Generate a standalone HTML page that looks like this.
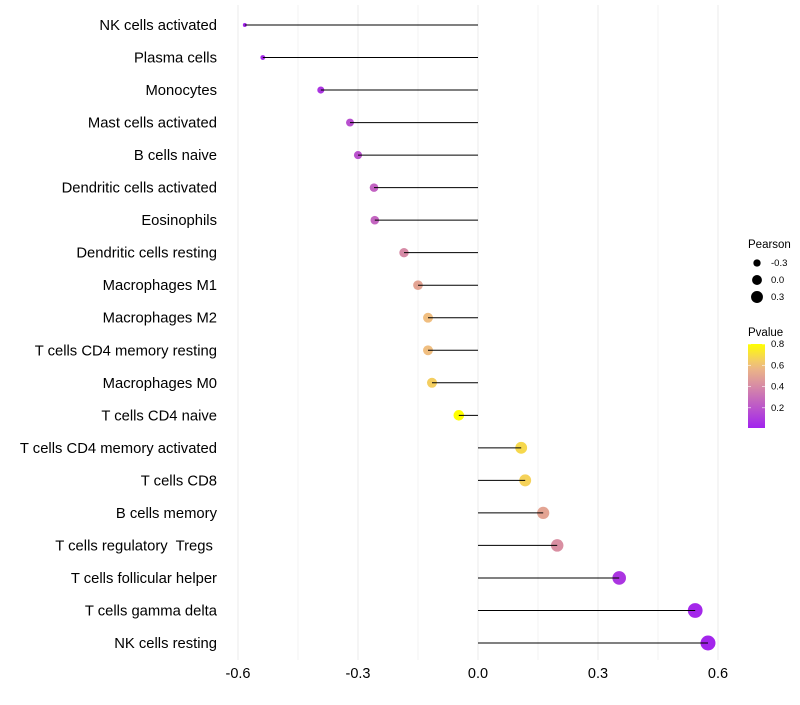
<!DOCTYPE html>
<html><head><meta charset="utf-8"><style>
body{margin:0;background:#fff;font-family:"Liberation Sans",sans-serif}
text{white-space:pre}
</style></head><body>
<svg id="chart" width="800" height="700" xmlns="http://www.w3.org/2000/svg" font-family="Liberation Sans, sans-serif"></svg>
<script>
const categories=["NK cells activated","Plasma cells","Monocytes","Mast cells activated","B cells naive","Dendritic cells activated","Eosinophils","Dendritic cells resting","Macrophages M1","Macrophages M2","T cells CD4 memory resting","Macrophages M0","T cells CD4 naive","T cells CD4 memory activated","T cells CD8","B cells memory","T cells regulatory  Tregs ","T cells follicular helper","T cells gamma delta","NK cells resting"];
const pearson=[-0.583,-0.538,-0.393,-0.32,-0.3,-0.26,-0.258,-0.185,-0.15,-0.125,-0.125,-0.115,-0.048,0.108,0.118,0.163,0.198,0.353,0.543,0.575];
const pvalue=[0.02,0.03,0.08,0.18,0.19,0.25,0.26,0.4,0.5,0.6,0.6,0.65,0.8,0.68,0.66,0.5,0.42,0.08,0.03,0.02];
const xTicks=[-0.6,-0.3,0.0,0.3,0.6];
const xTickLabels=["-0.6","-0.3","0.0","0.3","0.6"];
const sizeLegend=[-0.3,0.0,0.3];
const pTicks=[0.2,0.4,0.6,0.8];

const NS="http://www.w3.org/2000/svg";
const svg=document.getElementById('chart');
const x=v=>478+v*400;
const y=i=>25+i*(618/(categories.length-1));
const r=v=>Math.sqrt(Math.max(2,30.1+45*v));
function lerp(a,b,t){return a+(b-a)*t}
const stops=[[0,[160,32,240]],[0.4,[214,138,166]],[0.6,[240,190,128]],[0.8,[255,255,0]]];
function col(p){p=Math.max(0,Math.min(0.8,p));for(let k=1;k<stops.length;k++){if(p<=stops[k][0]){const t=(p-stops[k-1][0])/(stops[k][0]-stops[k-1][0]);const c=stops[k-1][1].map((a,j)=>Math.round(lerp(a,stops[k][1][j],t)));return `rgb(${c})`;}}return 'rgb(255,255,0)';}
function mk(tag,attrs,parent){const e=document.createElementNS(NS,tag);for(const k in attrs)e.setAttribute(k,attrs[k]);(parent||svg).appendChild(e);return e;}

for(let k=0;k<=8;k++){const v=-0.6+k*0.15;const g=mk('line',{x1:x(v),x2:x(v),y1:5,y2:660,stroke:'#ebebeb','stroke-width':k%2==0?1:0.6});

}
xTicks.forEach((v,i)=>{const t=mk('text',{x:x(v),y:678,'text-anchor':'middle','font-size':14.5,fill:'#000'});t.textContent=xTickLabels[i];

});

categories.forEach((c,i)=>{
 const t=mk('text',{x:217,y:y(i)+5,'text-anchor':'end','font-size':14.8,fill:'#000'});t.textContent=c;
 
 
 const d=mk('circle',{cx:x(pearson[i]),cy:y(i),r:r(pearson[i]),fill:col(pvalue[i])});
 
 
 const s=mk('line',{x1:x(0),x2:x(pearson[i]),y1:y(i),y2:y(i),stroke:'#000','stroke-width':1});
 
 
});

let lt=mk('text',{x:748,y:248,'font-size':11.5,fill:'#000'});lt.textContent='Pearson';


sizeLegend.forEach((v,i)=>{const cy=263+i*17;
 const c=mk('circle',{cx:757,cy:cy,r:r(v)*0.9,fill:'#000'});
 
 
 const t=mk('text',{x:771,y:cy+3,'font-size':9.5,fill:'#000'});t.textContent=v.toFixed(1);
 
 });

let ct=mk('text',{x:748,y:336,'font-size':11.5,fill:'#000'});ct.textContent='Pvalue';


const defs=mk('defs',{});const lg=mk('linearGradient',{id:'pg',x1:0,y1:1,x2:0,y2:0},defs);
const pBot=0.01,pTop=0.8,yB=428,yT=344;
for(let k=0;k<=10;k++){const p=pBot+(pTop-pBot)*k/10;mk('stop',{offset:k/10,'stop-color':col(p)},lg);}
const bar=mk('rect',{x:748,y:yT,width:17,height:yB-yT,fill:'url(#pg)'});


pTicks.forEach(p=>{const yy=yB-(p-pBot)/(pTop-pBot)*(yB-yT);
 mk('line',{x1:748,x2:751,y1:yy,y2:yy,stroke:'#fff','stroke-width':0.6});mk('line',{x1:762,x2:765,y1:yy,y2:yy,stroke:'#fff','stroke-width':0.6});
 const t=mk('text',{x:771,y:yy+3,'font-size':9.5,fill:'#000'});t.textContent=p.toFixed(1);
 
 });
</script>
</body></html>
